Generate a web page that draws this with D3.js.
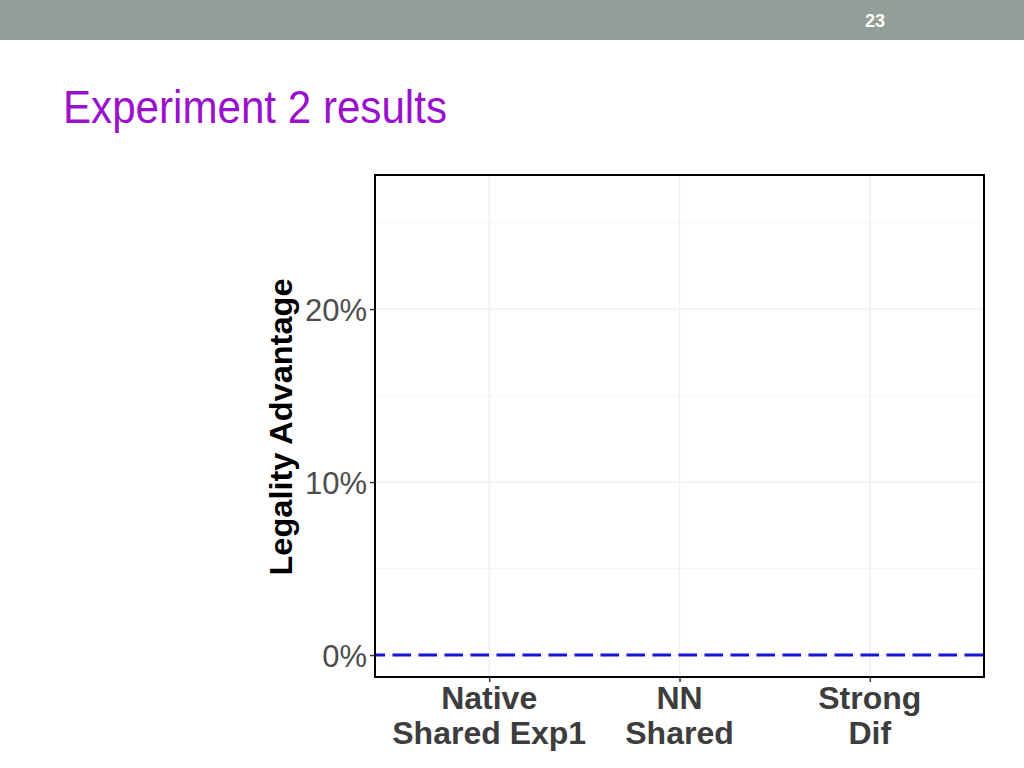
<!DOCTYPE html>
<html>
<head>
<meta charset="utf-8">
<script src="https://cdn.jsdelivr.net/npm/d3@7"></script>
<style>
  body { margin: 0; background: #fff; }
</style>
</head>
<body>
<div id="chart"></div>
<script>
// Chart data
const categories = [["Native", "Shared Exp1"], ["NN", "Shared"], ["Strong", "Dif"]];
const majorTicks = [0, 0.1, 0.2];
const minorTicks = [0.05, 0.15, 0.25];
const referenceLine = 0;
const yDomain = [-0.0127, 0.2775];
const pageNumber = "23";
const slideTitle = "Experiment 2 results";
const yTitle = "Legality Advantage";

const width = 1024;
const height = 768;
const panel = { left: 375, right: 984, top: 175, bottom: 677 };

const svg = d3.select("#chart").append("svg")
    .attr("width", width)
    .attr("height", height)
    .style("font-family", "'Liberation Sans', Arial, sans-serif");

// Slide header
svg.append("rect")
    .attr("x", 0).attr("y", 0)
    .attr("width", width).attr("height", 40)
    .attr("fill", "#919f98");

svg.append("text")
    .attr("x", 875).attr("y", 27)
    .attr("text-anchor", "middle")
    .attr("fill", "#fff")
    .style("font-size", "18px")
    .style("font-weight", "bold")
    .text(pageNumber);

svg.append("text")
    .attr("x", 63).attr("y", 123)
    .attr("fill", "#9b10cc")
    .attr("textLength", 384)
    .attr("lengthAdjust", "spacingAndGlyphs")
    .style("font-size", "46px")
    .text(slideTitle);

// Scales
const x = d3.scalePoint()
    .domain(categories.map(d => d.join(" ")))
    .range([panel.left, panel.right])
    .padding(0.6);

const y = d3.scaleLinear()
    .domain(yDomain)
    .range([panel.bottom, panel.top]);

const plot = svg.append("g");

// Grid lines
plot.selectAll(".minor")
    .data(minorTicks)
    .enter().append("line")
    .attr("x1", panel.left).attr("x2", panel.right)
    .attr("y1", d => y(d)).attr("y2", d => y(d))
    .attr("stroke", "#f6f6f6")
    .attr("stroke-width", 1);

plot.selectAll(".major")
    .data(majorTicks)
    .enter().append("line")
    .attr("x1", panel.left).attr("x2", panel.right)
    .attr("y1", d => y(d)).attr("y2", d => y(d))
    .attr("stroke", "#f1f1f1")
    .attr("stroke-width", 1.5);

plot.selectAll(".vgrid")
    .data(x.domain())
    .enter().append("line")
    .attr("x1", d => x(d)).attr("x2", d => x(d))
    .attr("y1", panel.top).attr("y2", panel.bottom)
    .attr("stroke", "#f1f1f1")
    .attr("stroke-width", 1.5);

// Reference line at zero
plot.append("line")
    .attr("x1", panel.left).attr("x2", panel.right)
    .attr("y1", y(referenceLine)).attr("y2", y(referenceLine))
    .attr("stroke", "#1414dc")
    .attr("stroke-width", 3)
    .attr("stroke-dasharray", "18.5,7.5")
    .attr("stroke-dashoffset", 8.5);

// Panel border
plot.append("rect")
    .attr("x", panel.left).attr("y", panel.top)
    .attr("width", panel.right - panel.left)
    .attr("height", panel.bottom - panel.top)
    .attr("fill", "none")
    .attr("stroke", "#000")
    .attr("stroke-width", 2);

// Y axis
const yAxis = svg.append("g")
    .attr("transform", "translate(" + panel.left + ",0)")
    .call(d3.axisLeft(y).tickValues(majorTicks).tickFormat(d3.format(".0%")).tickSize(5).tickPadding(3));
yAxis.select(".domain").remove();
yAxis.selectAll(".tick line").attr("stroke", "#333").attr("stroke-width", 1.5);
yAxis.selectAll(".tick text")
    .attr("fill", "#4d4d4d")
    .attr("dy", "0.36em")
    .style("font-size", "31px")
    .style("font-family", "'Liberation Sans', Arial, sans-serif");

// X axis
const xAxis = svg.append("g")
    .attr("transform", "translate(0," + panel.bottom + ")")
    .call(d3.axisBottom(x).tickSize(5).tickFormat(""));
xAxis.select(".domain").remove();
xAxis.selectAll(".tick line").attr("stroke", "#333").attr("stroke-width", 1.5);

categories.forEach(function (c) {
    const label = svg.append("text")
        .attr("x", x(c.join(" ")))
        .attr("y", 709)
        .attr("text-anchor", "middle")
        .attr("fill", "#3d3d3d")
        .style("font-size", "32px")
        .style("font-weight", "bold");
    c.forEach(function (line, i) {
        label.append("tspan")
            .attr("x", x(c.join(" ")))
            .attr("dy", i === 0 ? 0 : 35)
            .text(line);
    });
});

// Y axis title
svg.append("text")
    .attr("transform", "translate(292," + ((panel.top + panel.bottom) / 2 + 1) + ") rotate(-90)")
    .attr("text-anchor", "middle")
    .attr("fill", "#000")
    .attr("textLength", 297)
    .attr("lengthAdjust", "spacingAndGlyphs")
    .style("font-size", "31px")
    .style("font-weight", "bold")
    .text(yTitle);
</script>
</body>
</html>
